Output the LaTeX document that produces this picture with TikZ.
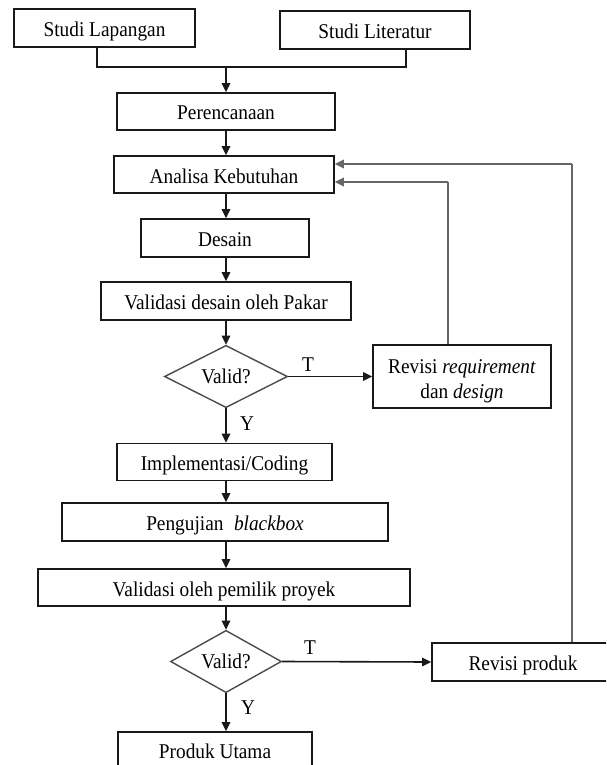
\documentclass[tikz,border=0pt]{standalone}
\usepackage{fontspec}
\setmainfont{Liberation Serif}[FakeStretch=0.92]
\usetikzlibrary{arrows.meta,shapes.geometric}

\begin{document}
\begin{tikzpicture}[x=1pt,y=-1pt,
  font=\fontsize{21}{24}\selectfont,
  box/.style={draw=black!90,line width=1.6pt,inner sep=0pt,align=center,
    text height=17pt,text depth=0pt},
  frame/.style={draw=black!90,line width=1.6pt,inner sep=0pt},
  decision/.style={draw=black!70,line width=1.4pt,diamond,inner sep=0pt,
    text height=13pt,text depth=0pt},
  tip/.style={-{Triangle[length=9pt,width=8.5pt]}},
  flow/.style={draw=black!90,line width=1.6pt,tip},
  link/.style={draw=black!90,line width=1.6pt},
  back/.style={draw=black!60,line width=1.8pt},
  backarrow/.style={back,tip},
  tag/.style={inner sep=0pt}]
\useasboundingbox (0,0) rectangle (606,765);
\clip (0,0) rectangle (606,765);

% main axis of the flow
\coordinate (ax) at (226,0);

% boxes
\node[box,minimum width=181pt,minimum height=38pt] (sl)   at (104.5,28)  {Studi Lapangan};
\node[box,minimum width=190pt,minimum height=38pt] (slit) at (375,30)    {Studi Literatur};
\node[box,minimum width=218pt,minimum height=37pt] (per)  at (226,111.5) {Perencanaan};
\node[box,minimum width=220pt,minimum height=37pt] (ana)  at (224,174.5) {Analisa Kebutuhan};
\node[box,minimum width=168pt,minimum height=38pt] (des)  at (225,238)   {Desain};
\node[box,minimum width=250pt,minimum height=38pt] (vdp)  at (226,301)   {Validasi desain oleh Pakar};
\node[decision,minimum width=123pt,minimum height=61pt] (d1) at (226,376.5) {Valid?};
\node[frame,minimum width=178pt,minimum height=63pt] (rrd) at (462,376.5) {};
\node[tag,anchor=base] (rrd1) at (462,373) {Revisi \textit{requirement}};
\node[tag,anchor=base] (rrd2) at (462,398) {dan \textit{design}};
\node[box,minimum width=215pt,minimum height=37pt] (imp)  at (224.5,462) {Implementasi/Coding};
\node[box,minimum width=326pt,minimum height=38pt] (pen)  at (225,522)   {Pengujian\enspace\textit{blackbox}};
\node[box,minimum width=372pt,minimum height=37pt] (vpp)  at (224,587.5) {Validasi oleh pemilik proyek};
\node[decision,minimum width=111pt,minimum height=59pt] (d2) at (226,661.5) {Valid?};
\node[box,minimum width=182pt,minimum height=38pt] (rp)   at (523,662)   {Revisi produk};
\node[box,minimum width=194pt,minimum height=38pt,text height=14pt] (pu) at (215,751) {Produk Utama};

% merge of the two studies
\coordinate (j1) at (97,67);
\coordinate (j2) at (406,67);
\draw[link] (sl.south -| j1) -- (j1) -- (j2) -- (slit.south -| j2);
\draw[flow] (j1 -| ax) -- (per.north -| ax);

% main sequence
\draw[flow] (per.south -| ax) -- (ana.north -| ax);
\draw[flow] (ana.south -| ax) -- (des.north -| ax);
\draw[flow] (des.south -| ax) -- (vdp.north -| ax);
\draw[flow] (vdp.south -| ax) -- (d1.north);
\draw[flow] (d1.south) -- (imp.north -| d1.south);
\draw[flow] (imp.south -| ax) -- (pen.north -| ax);
\draw[flow] (pen.south -| ax) -- (vpp.north -| ax);
\draw[flow] (vpp.south -| ax) -- (d2.north);
\draw[flow] (d2.south) -- (pu.north -| d2.south);

% decisions
\draw[flow] (d1.east) -- (rrd.west);
\node[tag] (t1) at (308,365) {T};
\node[tag] (y1) at (247,424) {Y};
\draw[flow] (d2.east) -- (rp.west);
\node[tag] (t2) at (310,648) {T};
\node[tag] (y2) at (248,708) {Y};

% feedback loops to Analisa Kebutuhan
\coordinate (f1) at (448,182);
\coordinate (f2) at (572,164);
\draw[back] (rrd.north -| f1) -- (f1);
\draw[backarrow] (f1) -- (ana.east |- f1);
\draw[back] (rp.north -| f2) -- (f2);
\draw[backarrow] (f2) -- (ana.east |- f2);
\end{tikzpicture}
\end{document}
